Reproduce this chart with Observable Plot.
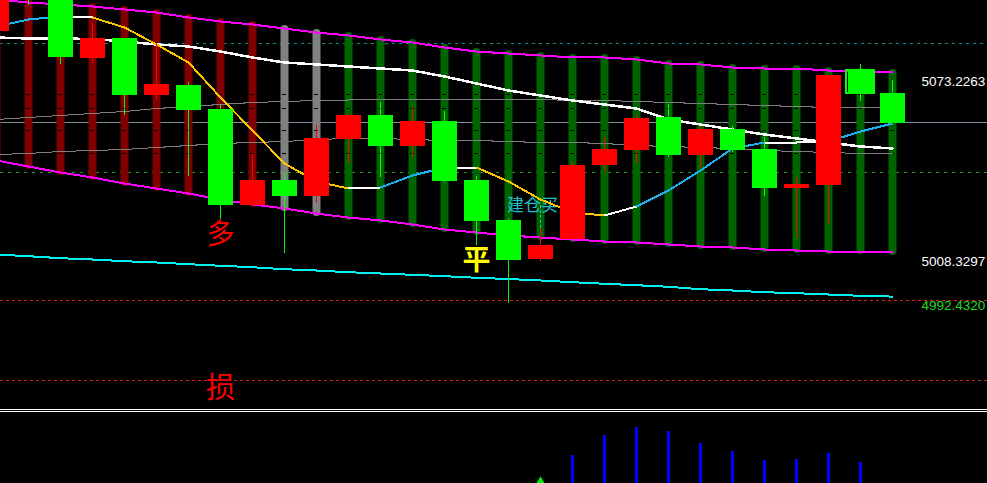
<!DOCTYPE html>
<html>
<head>
<meta charset="utf-8">
<script src="https://cdn.jsdelivr.net/npm/d3@7"></script>
<script src="https://cdn.jsdelivr.net/npm/@observablehq/plot@0.6"></script>
<style>
  html, body { margin: 0; padding: 0; background: #000; overflow: hidden; }
  #chart { width: 987px; height: 483px; background: #000; overflow: hidden; }
  #chart svg { display: block; overflow: hidden; }
  .sep { height: 1px; border-top: 1px solid #fff; border-bottom: 1px solid #fff; }
</style>
</head>
<body>
<div id="chart"></div>
<script>
// ---- K-line data (bar 0 is partly off the left edge) ----
const open  = [5088.0, 5111.8, 5099.9, 5078.3, 5085.5, 5064.9, 5068.5, 5059.9, 5025.3, 5034.3, 5028.5, 5049.1, 5057.7, 5046.6, 5055.6, 5034.3, 5019.9, 5005.8, 5013.0, 5039.7, 5045.1, 5057.0, 5043.3, 5052.7, 5045.5, 5031.4, 5032.5, 5074.0, 5065.7];
const high  = [5104.2, 5115.4, 5102.1, 5090.9, 5085.5, 5083.7, 5069.6, 5061.3, 5043.7, 5037.2, 5054.1, 5058.1, 5062.4, 5060.6, 5059.2, 5035.7, 5020.6, 5017.0, 5040.8, 5049.8, 5057.7, 5061.7, 5053.8, 5053.8, 5049.8, 5035.4, 5072.2, 5076.1, 5070.4];
const low   = [5086.2, 5097.4, 5076.1, 5076.5, 5057.7, 5063.5, 5035.7, 5020.2, 5025.3, 5008.0, 5026.0, 5040.4, 5035.4, 5042.6, 5033.6, 5010.9, 4990.0, 5005.1, 5012.7, 5037.2, 5040.4, 5042.6, 5038.6, 5044.4, 5028.5, 5013.4, 5018.4, 5062.8, 5054.8];
const close = [5101.4, 5099.9, 5078.6, 5085.5, 5064.9, 5068.9, 5059.5, 5025.3, 5034.3, 5028.5, 5049.4, 5057.7, 5046.6, 5055.6, 5033.9, 5019.5, 5005.5, 5010.9, 5039.7, 5045.5, 5056.7, 5043.3, 5052.7, 5045.1, 5031.4, 5032.9, 5072.2, 5065.7, 5054.8];

// ---- channel, moving averages, support line ----
const channelUpper = [5099.55, 5098.47, 5097.75, 5097.03, 5095.95, 5094.86, 5093.06, 5091.62, 5090.54, 5089.09, 5087.65, 5086.57, 5085.13, 5084.05, 5082.24, 5080.80, 5080.08, 5079.36, 5078.64, 5078.64, 5077.92, 5076.48, 5076.12, 5075.03, 5074.67, 5074.67, 5073.95, 5073.59, 5073.2263];
const channelLower = [5041.50, 5039.34, 5037.18, 5035.37, 5033.21, 5031.41, 5029.61, 5027.44, 5025.64, 5024.20, 5022.39, 5020.95, 5019.87, 5018.43, 5016.63, 5015.54, 5014.46, 5013.74, 5013.02, 5012.30, 5011.94, 5011.22, 5010.50, 5010.14, 5009.42, 5009.05, 5008.69, 5008.69, 5008.3297];
const maFast = [5089.82, 5092.34, 5093.42, 5093.06, 5089.46, 5083.33, 5076.84, 5064.22, 5052.32, 5040.42, 5033.93, 5031.41, 5031.77, 5036.10, 5038.98, 5038.98, 5033.93, 5027.44, 5022.76, 5021.67, 5024.92, 5030.69, 5037.90, 5045.83, 5047.99, 5047.99, 5048.35, 5051.96, 5054.84];
// direction of the fast average on the segment that ends at each bar
const maFastDir = ["", "up", "up", "flat", "down", "down", "down", "down", "down", "down", "down", "down", "flat", "up", "up", "flat", "down", "down", "down", "down", "flat", "up", "up", "up", "up", "flat", "flat", "up", "up"];
const maSlow = [5085.85, 5085.49, 5085.49, 5085.31, 5084.41, 5083.33, 5082.61, 5080.80, 5078.64, 5076.84, 5076.12, 5075.39, 5074.67, 5073.95, 5071.79, 5069.27, 5066.74, 5064.94, 5063.14, 5061.69, 5060.25, 5056.29, 5054.48, 5052.68, 5050.88, 5049.44, 5047.99, 5046.55, 5045.83];
const bandUpper = [5056.29, 5057.01, 5057.73, 5058.45, 5059.17, 5060.25, 5060.97, 5061.69, 5062.41, 5062.78, 5063.14, 5063.32, 5063.50, 5063.50, 5063.50, 5063.50, 5063.50, 5063.50, 5063.14, 5063.14, 5062.78, 5062.41, 5062.05, 5061.69, 5061.33, 5060.97, 5060.61, 5060.61, 5060.61];
const bandLower = [5043.67, 5044.03, 5044.75, 5045.11, 5045.47, 5046.19, 5046.91, 5047.63, 5047.99, 5048.35, 5049.07, 5049.44, 5049.44, 5049.07, 5048.71, 5048.71, 5048.35, 5047.99, 5047.99, 5047.63, 5046.91, 5046.55, 5046.19, 5045.83, 5045.11, 5044.75, 5044.39, 5044.03, 5044.03];
const support = [5007.61, 5007.00, 5006.28, 5005.81, 5005.20, 5004.73, 5004.12, 5003.54, 5003.03, 5002.31, 5001.84, 5001.23, 5000.76, 5000.29, 4999.79, 4999.21, 4998.78, 4998.24, 4997.63, 4997.05, 4996.54, 4995.97, 4995.10, 4994.63, 4994.02, 4993.66, 4993.19, 4992.72, 4992.432];

// trend state of each bar: bear / wait / bull
const trend = ["bear", "bear", "bear", "bear", "bear", "bear", "bear", "bear", "bear", "wait", "wait", "bull", "bull", "bull", "bull", "bull", "bull", "bull", "bull", "bull", "bull", "bull", "bull", "bull", "bull", "bull", "bull", "bull", "bull"];

// horizontal price levels
const levelOpen = 5083.7;     // teal dashed
const levelPivot = 5055.2;    // solid slate
const levelEntry = 5037.2;    // green dashed
const levelTarget = 4991.0;   // red dashed
const levelStop = 4962.2;     // red dashed (stop)
const markLevels = [5065.3, 5060.25, 5052.3, 5044.0];

// trade signals
const signalLong = {bar: 7, text: "多"};
const signalExit = {bar: 15, text: "平"};
const signalStop = {bar: 7, text: "损"};
const signalBuy = {bar: 17, text: "建仓买", level: 5025.3};
const signalBox = {bar: 27};

// lower panel histogram
const histBars = [18, 19, 20, 21, 22, 23, 24, 25, 26, 27];
const histValues = [28, 48, 56, 52, 40, 32, 23, 24, 30, 21];
const histArrow = {bar: 17, value: -2};

// ---- build tables ----
const bars = open.map((o, i) => ({
  i, open: o, high: high[i], low: low[i], close: close[i],
  upper: channelUpper[i], lower: channelLower[i],
  fast: maFast[i], slow: maSlow[i], bu: bandUpper[i], bl: bandLower[i],
  support: support[i], trend: trend[i]
}));
const fastSegs = bars.slice(1).map(d => ({
  x1: d.i - 1, y1: maFast[d.i - 1], x2: d.i, y2: d.fast, dir: maFastDir[d.i]
}));
const ticks = bars.slice(1).flatMap(d => markLevels.map(v => ({i: d.i, v})));

const candleColor = d => d.close >= d.open ? "#ff0000" : "#00ff00";
const trendColor = {bear: "#800000", wait: "#808080", bull: "#006400"};
const dirColor = {up: "#1eb0f0", down: "#ffc400", flat: "#ffffff"};
const fmt = d3.format(".4f");
const last = bars.length - 1;
const endLabels = [
  {v: channelUpper[last], c: "#ffffff"},
  {v: channelLower[last], c: "#ffffff"},
  {v: support[last], c: "#22dd22"}
];

const xDomain = [0.125, 30.96875];
const cjk = "Noto Sans CJK SC, sans-serif";

const main = Plot.plot({
  width: 987, height: 409, margin: 0,
  style: {background: "#000", overflow: "hidden"},
  x: {domain: xDomain, axis: null},
  y: {domain: [4951.73, 5099.19], axis: null},
  color: {type: "identity"},
  marks: [
    Plot.ruleY([levelOpen], {stroke: "#0a8f8f", strokeDasharray: "3,4", shapeRendering: "crispEdges"}),
    Plot.ruleY([levelPivot], {stroke: "#8090a0", shapeRendering: "crispEdges"}),
    Plot.ruleY([levelEntry], {stroke: "#1f9a1f", strokeDasharray: "3,5", shapeRendering: "crispEdges"}),
    Plot.ruleY([levelTarget, levelStop], {stroke: "#cc2222", strokeDasharray: "3,3", shapeRendering: "crispEdges"}),
    // trend columns between the channel lines
    Plot.ruleX(bars, {x: "i", y1: "upper", y2: "lower", stroke: d => trendColor[d.trend], strokeWidth: 8, strokeLinecap: "round", insetTop: 1, insetBottom: 1}),
    Plot.ruleY(ticks, {y: "v", x1: d => d.i - 0.05, x2: d => d.i + 0.05, stroke: "#000", shapeRendering: "crispEdges"}),
    Plot.line(bars, {x: "i", y: "bu", stroke: "#808080", strokeWidth: 1, shapeRendering: "crispEdges"}),
    Plot.line(bars, {x: "i", y: "bl", stroke: "#808080", strokeWidth: 1, shapeRendering: "crispEdges"}),
    // entry signal text with its dashed pointer
    Plot.text([signalBuy], {x: "bar", y: "level", text: "text", dx: -8, fill: "#22c0d0", fontSize: 17, fontFamily: cjk}),
    Plot.ruleX([signalBuy], {x: "bar", y1: "level", y2: d => high[d.bar], stroke: "#22c0d0", strokeDasharray: "3,2"}),
    Plot.line(bars, {x: "i", y: "slow", stroke: "#ffffff", strokeWidth: 2.5, shapeRendering: "crispEdges"}),
    Plot.line(bars, {x: "i", y: "upper", stroke: "#ff00ff", strokeWidth: 2, shapeRendering: "crispEdges"}),
    Plot.line(bars, {x: "i", y: "lower", stroke: "#ff00ff", strokeWidth: 2, shapeRendering: "crispEdges"}),
    Plot.line(bars, {x: "i", y: "support", stroke: "#00f0f0", strokeWidth: 2, shapeRendering: "crispEdges"}),
    Plot.link(fastSegs, {x1: "x1", y1: "y1", x2: "x2", y2: "y2", stroke: d => dirColor[d.dir], strokeWidth: 2, shapeRendering: "crispEdges"}),
    // candlesticks
    Plot.ruleX(bars, {x: "i", y1: "low", y2: "high", stroke: candleColor, strokeWidth: 1, shapeRendering: "crispEdges"}),
    Plot.ruleX(bars, {x: "i", y1: "open", y2: "close", stroke: candleColor, strokeWidth: 25, shapeRendering: "crispEdges"}),
    // outlined box around the flagged candle body
    Plot.rect([signalBox], {x1: d => d.bar - 0.45, x2: d => d.bar + 0.45, y1: d => open[d.bar], y2: d => close[d.bar], fill: "none", stroke: "#00ff00", strokeWidth: 2, shapeRendering: "crispEdges"}),
    // signal glyphs
    Plot.text([signalLong], {x: "bar", y: d => low[d.bar], dy: 15, text: "text", fill: "#ff0000", fontSize: 28, fontFamily: cjk}),
    Plot.text([signalExit], {x: "bar", y: d => low[d.bar], dy: 16, text: "text", fill: "#ffff00", fontSize: 28, fontWeight: "bold", fontFamily: cjk}),
    Plot.text([signalStop], {x: "bar", y: () => levelStop, dy: 8, text: "text", fill: "#ff0000", fontSize: 29, fontFamily: cjk}),
    // right-hand price labels
    Plot.text(endLabels, {x: () => last + 1, y: "v", text: d => fmt(d.v), fill: "c", dx: -3, dy: 4, textAnchor: "start", lineAnchor: "top", fontSize: 13.5, fontFamily: "Liberation Sans, Arial, sans-serif"})
  ]
});

const sub = Plot.plot({
  width: 987, height: 71, margin: 0,
  style: {background: "#000", overflow: "hidden"},
  x: {domain: xDomain, axis: null},
  y: {domain: [0, 71], axis: null},
  marks: [
    Plot.ruleX(histBars, {x: d => d, y1: 0, y2: (d, k) => histValues[k], stroke: "#0000ff", strokeWidth: 3, shapeRendering: "crispEdges"}),
    Plot.dot([histArrow], {x: "bar", y: "value", symbol: "triangle", r: 6, fill: "#00ee00", stroke: "none"})
  ]
});

const root = document.getElementById("chart");
root.append(main);
const sep = document.createElement("div");
sep.className = "sep";
root.append(sep);
root.append(sub);
</script>
</body>
</html>
